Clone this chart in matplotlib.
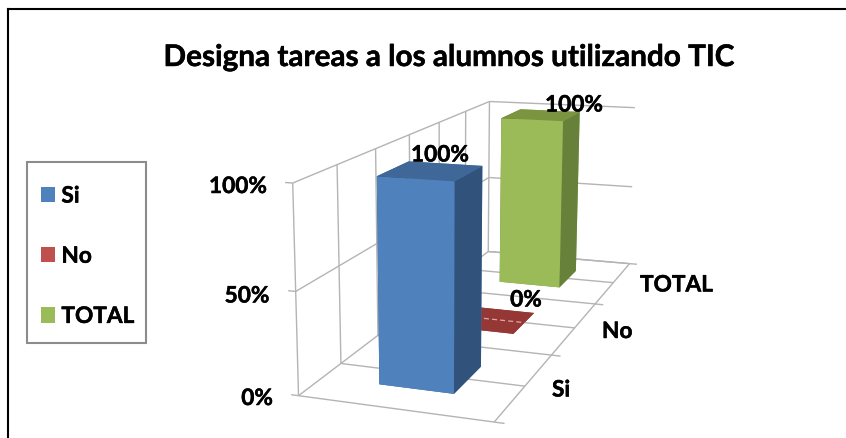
import numpy as np
import matplotlib
matplotlib.use("Agg")
import matplotlib.pyplot as plt
import matplotlib.patheffects as pe
from matplotlib.lines import Line2D
from matplotlib.patches import Patch, Rectangle
from mpl_toolkits.mplot3d.art3d import Line3DCollection

W, H = 846, 439
series = ["Si", "No", "TOTAL"]
values = [100, 0, 100]
value_ticks = [0, 50, 100]
title = "Designa tareas a los alumnos utilizando TIC"
front_colors = ["#4F81BD", "#953735", "#9BBB59"]
top_colors = ["#3F6797", "#953735", "#7A9440"]
side_colors = ["#31527B", "#953735", "#67803A"]
legend_colors = ["#4F81BD", "#C0504D", "#9BBB59"]

plt.rcParams["font.family"] = ["Lato", "DejaVu Sans"]
plt.rcParams["font.weight"] = "bold"

fig = plt.figure(figsize=(W / 100, H / 100), dpi=100, facecolor="white")
ax = fig.add_axes([0, -(W - H) / 2 / H, 1, W / H], projection="3d")
ax.set_axis_off()
ax.computed_zorder = False
ax.apply_aspect()

# Camera calibration: (x, series position, share of value axis) -> picture pixel
cal = [
    (0, 0, 0, 298, 397), (1, 0, 0, 495, 423), (1, 3, 0, 630, 264), (0, 3, 0, 488, 253),
    (0, 0, 1, 293, 183), (0, 3, 1, 489, 102), (1, 3, 1, 635, 109), (0, 0, .5, 295, 292),
    (0, 3, .5, 489, 179), (1, 3, .5, 632, 188), (1, .5, 0, 523, 388), (1, 1, 0, 552, 356),
    (1, 1.5, 0, 575, 329), (1, 2, 0, 595, 304), (1, 2.5, 0, 613, 284), (0, .5, 0, 342, 364),
    (0, .5, 1, 337, 167), (0, 1, 1, 376, 150), (0, 2, 1, 439, 123), (0, 2.5, 1, 466, 112),
]
cal = np.array(cal, float)
rows = []
rhs = []
for X, Y, Z, px, py in cal:
    v = [X, Y, Z, 1]
    rows.append(v + [0, 0, 0, 0] + [-px * a for a in (X, Y, Z)])
    rows.append([0, 0, 0, 0] + v + [-py * a for a in (X, Y, Z)])
    rhs += [px, py]
sol = np.linalg.lstsq(np.array(rows), np.array(rhs), rcond=None)[0]
P = np.vstack([sol[:4], sol[4:8], list(sol[8:]) + [1.0]])  # to image pixels
# image pixels -> axes 2D view coordinates
inv = ax.transData.inverted()
o = inv.transform((0, H))
sx = (inv.transform((1, H)) - o)[0]
sy = (inv.transform((0, H - 1)) - o)[1]
Pv = np.vstack([sx * P[0] + o[0] * P[2], sy * P[1] + o[1] * P[2]])
depth = np.array([-1.0, 1.0, -1.0, 0.0])
M = np.vstack([Pv, depth, P[2]])
ax.get_proj = lambda: M


def scale_z(v):
    return v / max(value_ticks)


segs = []
for v in value_ticks:
    z = scale_z(v)
    segs.append([(0, 0, z), (0, 3, z)])
    segs.append([(0, 3, z), (1, 3, z)])
    segs.append([(-.04, 0, z), (0, 0, z)])
for y in np.arange(0, 3.5, .5):
    segs.append([(0, y, 0), (0, y, 1)])
    segs.append([(0, y, 0), (1, y, 0)])
for y in range(4):
    segs.append([(1, y, 0), (1.05, y, 0)])
segs.append([(1, 0, 0), (1, 3, 0)])
ax.add_collection3d(Line3DCollection(segs, colors="#B4B4B4", linewidths=1.0, zorder=1))

# back-to-front
for i in [2, 1, 0]:
    faces = [top_colors[i], top_colors[i], front_colors[i], front_colors[i],
             side_colors[i], side_colors[i]]
    ax.bar3d([.31], [i + .28], [0], [.395], [.42], [scale_z(values[i])],
             color=faces, shade=False, zorder=10 + (2 - i), edgecolor="none")
# the floor gridline shows faintly through the flat 0% bar
ax.add_collection3d(Line3DCollection([[(.31, 1.5, 0), (.705, 1.5, 0)]], colors="#D9A9A8",
                                     linewidths=.9, linestyles=(0, (4, 2.5)), zorder=11.5))

bold = [pe.withStroke(linewidth=.35, foreground="black")]


def T(x, y, s, **kw):
    fig.text(x / W, 1 - y / H, s, path_effects=bold, **kw)


fs = 16.3
T(449, 58, title, fontsize=21.4, ha="center", va="center", color="black")
for v, x, y in zip(value_ticks, (273, 269.5, 267), (399.5, 297, 187.5)):
    T(x, y, f"{v}%", fontsize=fs, ha="right", va="center")
for s, x, y in zip(series, (552, 602, 640), (391, 332.5, 286)):
    T(x, y, s, fontsize=fs, ha="left", va="center")
for v, x, y in zip(values, (440, 526, 574), (156, 301, 106)):
    T(x, y, f"{v}%", fontsize=fs, ha="center", va="center")

fig.add_artist(Rectangle((27 / W, 1 - 344 / H), 119 / W, 181 / H, transform=fig.transFigure,
                         facecolor="white", edgecolor="#8C8C8C", lw=1.5))
handles = [Patch(facecolor=c, edgecolor="none") for c in legend_colors]
leg = fig.legend(handles, series, loc="upper left", bbox_to_anchor=(27 / W, 1 - 173 / H),
                 borderaxespad=0, fontsize=fs, frameon=False, handlelength=.65, handleheight=.65,
                 handletextpad=.27, labelspacing=1.73, borderpad=.6)
for txt in leg.get_texts():
    txt.set_path_effects(bold)

fig.add_artist(Line2D([8 / W, 8 / W], [0, 1 - 9.5 / H], color="black", lw=1.5))
fig.add_artist(Line2D([8 / W, 1], [1 - 9.5 / H, 1 - 9.5 / H], color="black", lw=1.5))

fig.savefig("out.png", dpi=100)
